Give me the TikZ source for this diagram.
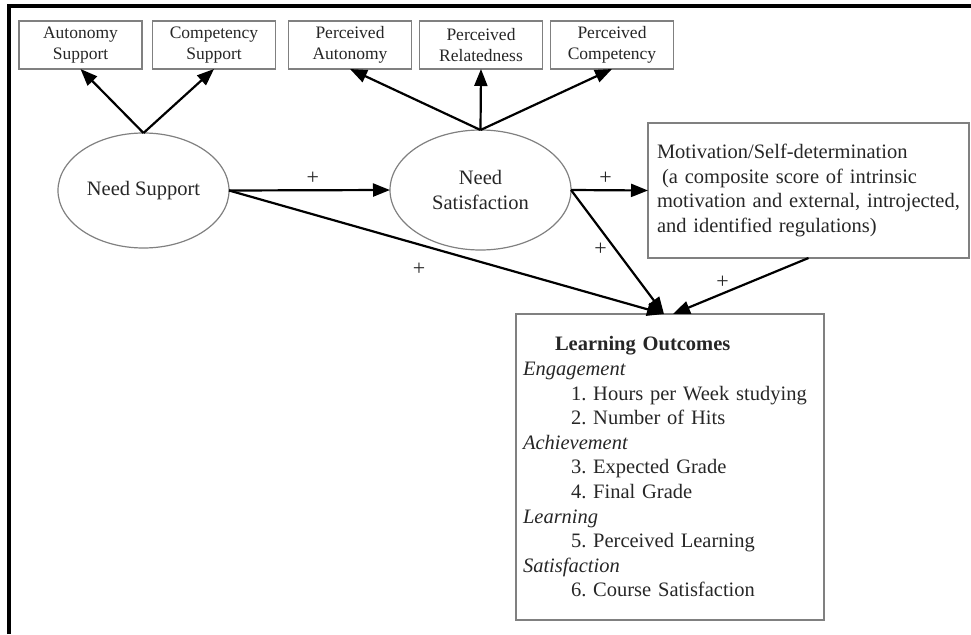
\documentclass[tikz,border=0pt]{standalone}
\usepackage{fontspec}
\setmainfont{Liberation Serif}
\usepackage{xcolor}
\usepackage{tikz}
\usetikzlibrary{arrows.meta}
\usetikzlibrary{shapes.geometric}
\frenchspacing

\begin{document}
\begin{tikzpicture}[x=1pt,y=-1pt,
        indicator/.style={draw=gray,line width=1.2pt,minimum width=123pt,minimum height=48pt,inner sep=0pt,outer sep=0pt,align=center,text=black!85,font=\fontsize{17.5}{20.5}\selectfont},
        latent/.style={draw=gray,line width=1.2pt,ellipse,inner sep=0pt,outer sep=0pt,align=center,text=black!85,font=\fontsize{20.5}{25}\selectfont},
        textbox/.style={draw=gray,line width=1.2pt,inner sep=0pt,outer sep=0pt,align=left,text=black!85,font=\fontsize{20.5}{24.6}\selectfont},
        link/.style={line width=2.2pt,-{Triangle[length=17pt,width=13pt]}},
        plus/.style={text=black!85,font=\fontsize{22}{22}\selectfont}]
        \useasboundingbox (0,0) rectangle (971,634);
        \draw[line width=4pt] (8.5,634) -- (8.5,6.5) -- (971,6.5);
        \node[indicator] (as) at (80.5,45) {Autonomy\\Support};
        \node[indicator] (cs) at (214,45) {Competency\\Support};
        \node[indicator] (pa) at (350,45) {Perceived\\Autonomy};
        \node[indicator] (pr) at (481,45) {Perceived\\Relatedness};
        \node[indicator] (pc) at (612,45) {Perceived\\Competency};
        \node[latent,minimum width=171pt,minimum height=115pt] (ns) at (143.5,190.5) {Need Support};
        \node[latent,minimum width=181pt,minimum height=120pt] (nsat) at (480.5,190) {Need\\Satisfaction};
        \node[textbox,minimum width=321pt,minimum height=135pt,text width=303pt] (mot) at (808.5,190.5)
            {Motivation/Self-determination\\\hspace*{5pt}(a composite score of intrinsic\\motivation and external, introjected,\\and identified regulations)};
        \node[textbox,minimum width=308pt,minimum height=306pt,text width=294pt] (lo) at (670,467)
            {\hspace*{32pt}\textbf{Learning Outcomes}\\
             \textit{Engagement}\\
             \hspace*{48pt}1. Hours per Week studying\\
             \hspace*{48pt}2. Number of Hits\\
             \textit{Achievement}\\
             \hspace*{48pt}3. Expected Grade\\
             \hspace*{48pt}4. Final Grade\\
             \textit{Learning}\\
             \hspace*{48pt}5. Perceived Learning\\
             \textit{Satisfaction}\\
             \hspace*{48pt}6. Course Satisfaction};
        \draw[link] (ns.north) -- (as.south);
        \draw[link] (ns.north) -- (cs.south);
        \draw[link] (nsat.north) -- (pa.south);
        \draw[link] (nsat.north) -- (pr.south);
        \draw[link] (nsat.north) -- (pc.south);
        \draw[link] (ns.east) -- node[plus,pos=0.52,yshift=12pt]{+} (nsat.west);
        \draw[link] (ns.east) -- node[plus,pos=0.437,yshift=-25pt]{+} ([xshift=-6pt]lo.north);
        \draw[link] (nsat.east) -- node[plus,pos=0.45,yshift=12pt]{+} (mot.west);
        \draw[link] (nsat.east) -- node[plus,pos=0.48,xshift=-15pt]{+} ([xshift=-6pt]lo.north);
        \draw[link] (mot.south) -- node[plus,pos=0.635,yshift=11pt]{+} ([xshift=3pt]lo.north);
    \end{tikzpicture}
\end{document}
